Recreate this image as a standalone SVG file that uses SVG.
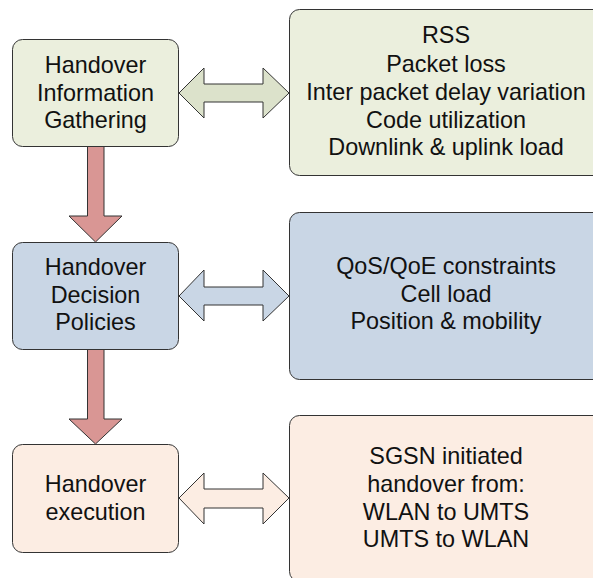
<svg xmlns="http://www.w3.org/2000/svg" width="593" height="578" viewBox="0 0 593 578">
<style>
.box{stroke:#333;stroke-width:1}
.g{fill:#EBEFDD}
.b{fill:#C9D6E5}
.p{fill:#FCEDE3}
.ga{fill:#DCE2CB;stroke:#333;stroke-width:1}
.ba{fill:#C9D6E5;stroke:#333;stroke-width:1}
.pa{fill:#FCEDE3;stroke:#333;stroke-width:1}
.down{fill:#D99694;stroke:#333;stroke-width:1}
text{font-family:"Liberation Sans",Arial,sans-serif;font-size:23.4px;fill:#111;text-anchor:middle}
</style>
<rect width="593" height="578" fill="#fff"/>
<g id="connectors">
<path class="down" d="M87.5,146 H104 V216 H122 L95.5,242 L69,216 H87.5 Z"/>
<path class="down" d="M87.5,349 H104 V419 H122 L95.5,444 L69,419 H87.5 Z"/>
<path class="ga" d="M179,93 L204,68 V84 H263 V68 L289,93 L263,118 V102 H204 V118 Z"/>
<path class="ba" d="M179,296 L204,270 V287 H263 V270 L289,296 L263,321 V305 H204 V321 Z"/>
<path class="pa" d="M179,498 L204,473 V489 H263 V473 L289,498 L263,524 V508 H204 V524 Z"/>
</g>
<g id="n1">
<rect class="box g" x="12.5" y="39.5" width="166" height="107" rx="10"/>
<text x="95.5" y="73">Handover</text>
<text x="95.5" y="100.5">Information</text>
<text x="95.5" y="128">Gathering</text>
</g>
<g id="n2">
<rect class="box g" x="289.5" y="9.5" width="320" height="166" rx="10"/>
<text x="446" y="43">RSS</text>
<text x="446" y="71.5">Packet loss</text>
<text x="446" y="99.5">Inter packet delay variation</text>
<text x="446" y="127.5">Code utilization</text>
<text x="446" y="155">Downlink &amp; uplink load</text>
</g>
<g id="n3">
<rect class="box b" x="12.5" y="242.5" width="166" height="107" rx="10"/>
<text x="95.5" y="275">Handover</text>
<text x="95.5" y="302.5">Decision</text>
<text x="95.5" y="330">Policies</text>
</g>
<g id="n4">
<rect class="box b" x="289.5" y="212.5" width="320" height="167" rx="10"/>
<text x="446" y="274">QoS/QoE constraints</text>
<text x="446" y="301.5">Cell load</text>
<text x="446" y="329">Position &amp; mobility</text>
</g>
<g id="n5">
<rect class="box p" x="12.5" y="444.5" width="166" height="108" rx="10"/>
<text x="95.5" y="492">Handover</text>
<text x="95.5" y="519.5">execution</text>
</g>
<g id="n6">
<rect class="box p" x="289.5" y="415.5" width="320" height="166" rx="10"/>
<text x="446" y="464">SGSN initiated</text>
<text x="446" y="492">handover from:</text>
<text x="446" y="519.5">WLAN to UMTS</text>
<text x="446" y="547">UMTS to WLAN</text>
</g>
</svg>
